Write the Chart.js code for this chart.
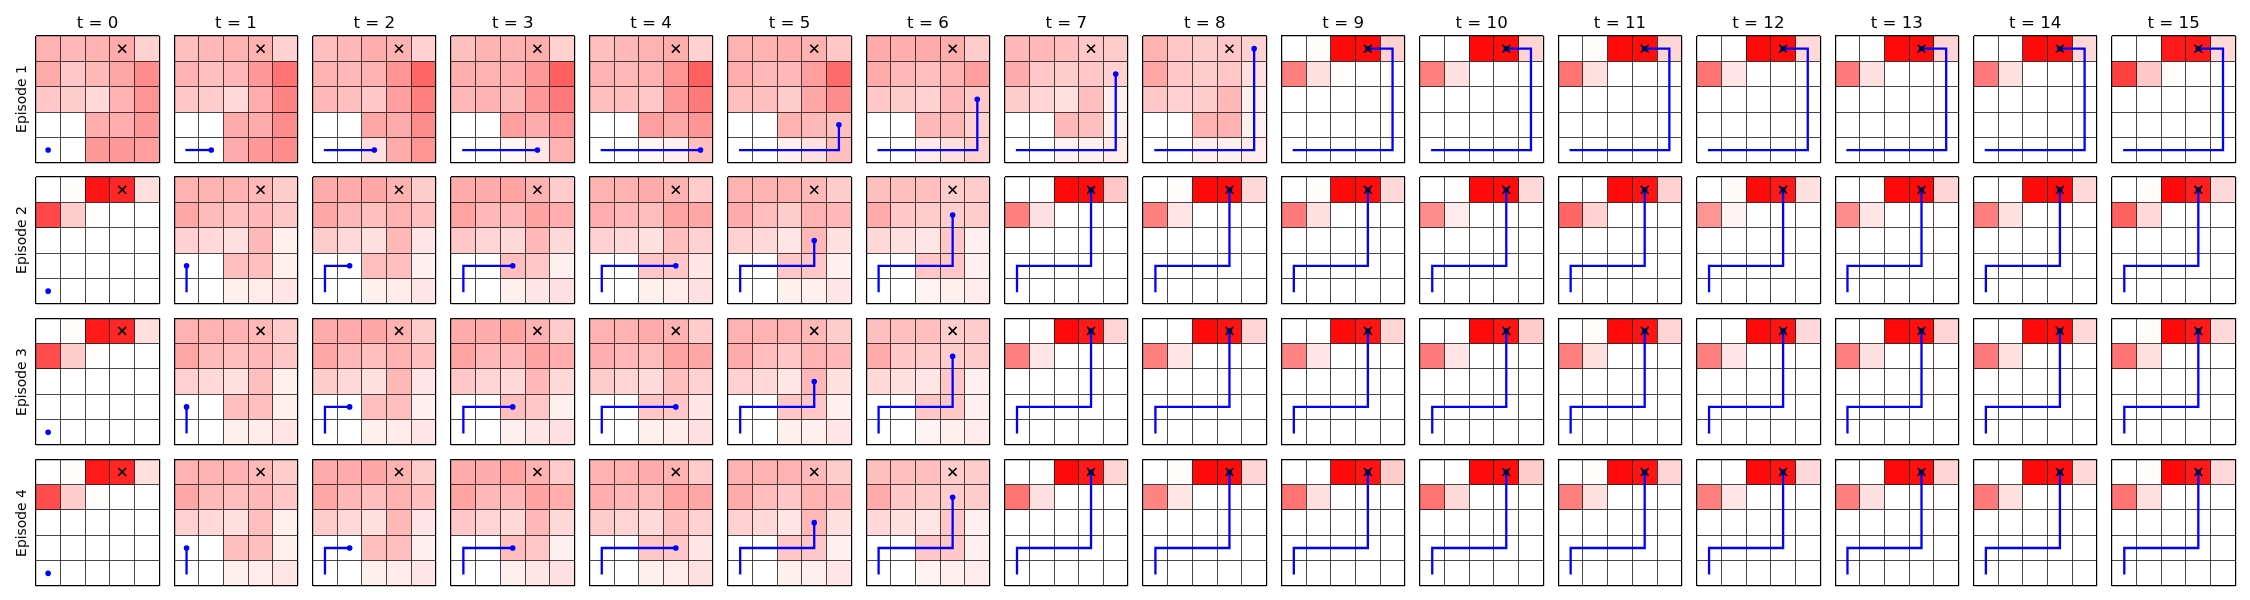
<!DOCTYPE html>
<html><head><meta charset="utf-8">
<script src="https://cdn.jsdelivr.net/npm/chart.js@4.4.0/dist/chart.umd.min.js"></script>
<style>
html,body{margin:0;padding:0;background:#fff;}
#fig{position:relative;width:2250px;height:600px;overflow:hidden;font-family:"DejaVu Sans",sans-serif;color:#000;}
#fig canvas{position:absolute;}
.ttl{position:absolute;font-size:16.67px;line-height:20px;text-align:center;white-space:nowrap;}
.ylab{position:absolute;font-size:13.89px;line-height:16px;width:120px;text-align:center;white-space:nowrap;transform:rotate(-90deg);}
</style></head><body><div id="fig"></div>
<script>
const timeLabels = ['t = 0','t = 1','t = 2','t = 3','t = 4','t = 5','t = 6','t = 7','t = 8','t = 9','t = 10','t = 11','t = 12','t = 13','t = 14','t = 15'];
const episodeLabels = ['Episode 1','Episode 2','Episode 3','Episode 4'];
const goalCell = [3, 0]; // [column, row from top]

const episode1Path = [[0,4],[1,4],[2,4],[3,4],[4,4],[4,3],[4,2],[4,1],[4,0],[3,0]];
const episode2Path = [[0,4],[0,3],[1,3],[2,3],[3,3],[3,2],[3,1],[3,0]];
const episode3Path = [[0,4],[0,3],[1,3],[2,3],[3,3],[3,2],[3,1],[3,0]];
const episode4Path = [[0,4],[0,3],[1,3],[2,3],[3,3],[3,2],[3,1],[3,0]];

// heat values per time step, 5 rows x 5 columns (top row first)
const episode1Heat = [
 [0.30,0.28,0.30,0.33,0.18, 0.33,0.22,0.28,0.35,0.45, 0.22,0.20,0.15,0.30,0.42, 0,0,0.32,0.32,0.40, 0,0,0.40,0.40,0.38],
 [0.25,0.28,0.30,0.30,0.18, 0.30,0.25,0.28,0.40,0.55, 0.22,0.20,0.15,0.32,0.48, 0,0,0.33,0.33,0.45, 0,0,0.33,0.40,0.45],
 [0.25,0.28,0.32,0.30,0.18, 0.30,0.28,0.30,0.42,0.60, 0.28,0.25,0.22,0.38,0.50, 0,0,0.35,0.33,0.45, 0,0,0.12,0.33,0.42],
 [0.25,0.30,0.30,0.32,0.18, 0.32,0.30,0.32,0.40,0.62, 0.28,0.30,0.28,0.40,0.52, 0,0,0.38,0.33,0.42, 0,0,0.03,0.10,0.30],
 [0.25,0.28,0.30,0.32,0.18, 0.30,0.28,0.30,0.42,0.62, 0.25,0.25,0.22,0.40,0.52, 0,0,0.38,0.35,0.42, 0,0,0.03,0.06,0.25],
 [0.30,0.30,0.32,0.30,0.22, 0.32,0.28,0.28,0.38,0.58, 0.25,0.25,0.20,0.35,0.45, 0,0,0.30,0.28,0.25, 0,0,0.06,0.12,0.25],
 [0.33,0.32,0.33,0.32,0.20, 0.33,0.28,0.25,0.30,0.38, 0.22,0.20,0.18,0.28,0.22, 0,0,0.28,0.28,0.18, 0,0,0.08,0.12,0.18],
 [0.28,0.28,0.25,0.22,0.20, 0.33,0.22,0.20,0.22,0.18, 0.20,0.17,0.12,0.25,0.06, 0,0,0.28,0.25,0.06, 0,0,0.05,0.06,0.08],
 [0.30,0.22,0.20,0.22,0.18, 0.35,0.22,0.20,0.22,0.12, 0.22,0.18,0.20,0.28,0.06, 0,0,0.30,0.30,0.06, 0,0,0.06,0.06,0.08],
 [0,0.01,0.96,0.95,0.18, 0.50,0.12,0.01,0,0, 0,0,0,0,0, 0,0,0,0,0, 0,0,0,0,0],
 [0,0,0.96,0.95,0.17, 0.50,0.12,0,0,0, 0,0,0,0,0, 0,0,0,0,0, 0,0,0,0,0],
 [0,0.01,0.96,0.95,0.17, 0.55,0.12,0,0,0, 0,0,0,0,0, 0,0,0,0,0, 0,0,0,0,0],
 [0,0,0.96,0.95,0.15, 0.55,0.10,0,0,0, 0,0,0,0,0, 0,0,0,0,0, 0,0,0,0,0],
 [0,0,0.96,0.95,0.17, 0.52,0.12,0,0,0, 0,0,0,0,0, 0,0,0,0,0, 0,0,0,0,0],
 [0,0,0.96,0.94,0.15, 0.52,0.12,0,0,0, 0,0,0,0,0, 0,0,0,0,0, 0,0,0,0,0],
 [0,0,0.90,0.90,0.15, 0.75,0.22,0.01,0,0, 0,0,0,0,0, 0,0,0,0,0, 0,0,0,0,0]
];
const episode2Heat = [
 [0,0.01,0.92,0.85,0.13, 0.72,0.20,0.01,0,0, 0,0,0,0,0, 0,0,0,0,0, 0,0,0,0,0],
 [0.30,0.30,0.30,0.28,0.20, 0.35,0.27,0.25,0.28,0.22, 0.18,0.15,0.12,0.28,0.06, 0,0,0.25,0.25,0.06, 0,0,0.06,0.08,0.10],
 [0.33,0.33,0.35,0.30,0.20, 0.35,0.28,0.25,0.30,0.25, 0.20,0.15,0.12,0.28,0.10, 0,0,0.25,0.25,0.06, 0,0,0.06,0.08,0.10],
 [0.33,0.33,0.36,0.30,0.20, 0.36,0.28,0.28,0.36,0.32, 0.22,0.17,0.15,0.28,0.15, 0,0,0.25,0.22,0.06, 0,0,0.06,0.10,0.12],
 [0.30,0.30,0.33,0.30,0.20, 0.32,0.28,0.26,0.36,0.35, 0.18,0.15,0.12,0.25,0.18, 0,0,0.22,0.22,0.10, 0,0,0.06,0.08,0.12],
 [0.30,0.30,0.30,0.28,0.20, 0.33,0.26,0.20,0.30,0.28, 0.18,0.15,0.10,0.28,0.12, 0,0,0.22,0.22,0.06, 0,0,0.06,0.06,0.10],
 [0.25,0.25,0.25,0.20,0.20, 0.33,0.22,0.20,0.20,0.20, 0.15,0.12,0.10,0.22,0.06, 0,0,0.22,0.22,0.06, 0,0,0.05,0.06,0.08],
 [0,0.01,0.96,0.95,0.22, 0.50,0.12,0,0,0, 0,0,0,0,0, 0,0,0,0,0, 0,0,0,0,0],
 [0,0.01,0.96,0.95,0.15, 0.50,0.10,0,0,0, 0,0,0,0,0, 0,0,0,0,0, 0,0,0,0,0],
 [0,0.01,0.96,0.95,0.15, 0.52,0.12,0,0,0, 0,0,0,0,0, 0,0,0,0,0, 0,0,0,0,0],
 [0,0.01,0.96,0.95,0.15, 0.45,0.08,0,0,0, 0,0,0,0,0, 0,0,0,0,0, 0,0,0,0,0],
 [0,0,0.96,0.93,0.18, 0.60,0.18,0,0,0, 0,0,0,0,0, 0,0,0,0,0, 0,0,0,0,0],
 [0,0.02,0.96,0.90,0.12, 0.42,0.05,0,0,0, 0,0,0,0,0, 0,0,0,0,0, 0,0,0,0,0],
 [0,0.01,0.96,0.96,0.17, 0.45,0.10,0,0,0, 0,0,0,0,0, 0,0,0,0,0, 0,0,0,0,0],
 [0,0,0.96,0.96,0.15, 0.50,0.12,0,0,0, 0,0,0,0,0, 0,0,0,0,0, 0,0,0,0,0],
 [0,0.01,0.96,0.88,0.15, 0.62,0.15,0,0,0, 0,0,0,0,0, 0,0,0,0,0, 0,0,0,0,0]
];
const episode3Heat = [
 [0,0.01,0.90,0.85,0.13, 0.70,0.20,0.01,0,0, 0,0,0,0,0, 0,0,0,0,0, 0,0,0,0,0],
 [0.30,0.30,0.30,0.28,0.20, 0.35,0.27,0.25,0.28,0.22, 0.18,0.15,0.12,0.25,0.06, 0,0,0.25,0.25,0.06, 0,0,0.06,0.08,0.10],
 [0.33,0.33,0.35,0.30,0.20, 0.35,0.28,0.25,0.30,0.25, 0.20,0.15,0.12,0.28,0.10, 0,0,0.25,0.25,0.06, 0,0,0.06,0.08,0.10],
 [0.33,0.33,0.36,0.30,0.20, 0.36,0.28,0.28,0.36,0.32, 0.22,0.17,0.15,0.28,0.15, 0,0,0.25,0.22,0.06, 0,0,0.06,0.10,0.12],
 [0.30,0.30,0.33,0.30,0.20, 0.32,0.28,0.26,0.36,0.35, 0.20,0.17,0.14,0.25,0.18, 0,0,0.22,0.22,0.10, 0,0,0.06,0.08,0.12],
 [0.30,0.30,0.30,0.28,0.20, 0.33,0.26,0.22,0.30,0.28, 0.18,0.15,0.10,0.28,0.12, 0,0,0.22,0.22,0.06, 0,0,0.06,0.06,0.10],
 [0.25,0.25,0.25,0.20,0.20, 0.33,0.22,0.20,0.20,0.20, 0.15,0.12,0.10,0.22,0.06, 0,0,0.22,0.22,0.06, 0,0,0.05,0.06,0.08],
 [0,0,0.96,0.90,0.17, 0.50,0.10,0,0,0, 0,0,0,0,0, 0,0,0,0,0, 0,0,0,0,0],
 [0,0,0.96,0.92,0.17, 0.50,0.10,0,0,0, 0,0,0,0,0, 0,0,0,0,0, 0,0,0,0,0],
 [0,0,0.96,0.92,0.17, 0.48,0.10,0,0,0, 0,0,0,0,0, 0,0,0,0,0, 0,0,0,0,0],
 [0,0,0.96,0.92,0.20, 0.52,0.10,0,0,0, 0,0,0,0,0, 0,0,0,0,0, 0,0,0,0,0],
 [0,0.01,0.96,0.93,0.17, 0.50,0.12,0,0,0, 0,0,0,0,0, 0,0,0,0,0, 0,0,0,0,0],
 [0,0,0.96,0.92,0.15, 0.50,0.10,0,0,0, 0,0,0,0,0, 0,0,0,0,0, 0,0,0,0,0],
 [0,0,0.96,0.94,0.17, 0.50,0.12,0,0,0, 0,0,0,0,0, 0,0,0,0,0, 0,0,0,0,0],
 [0,0,0.96,0.94,0.15, 0.52,0.12,0,0,0, 0,0,0,0,0, 0,0,0,0,0, 0,0,0,0,0],
 [0,0.01,0.96,0.90,0.15, 0.55,0.12,0,0,0, 0,0,0,0,0, 0,0,0,0,0, 0,0,0,0,0]
];
const episode4Heat = [
 [0,0.01,0.90,0.85,0.13, 0.70,0.20,0.01,0,0, 0,0,0,0,0, 0,0,0,0,0, 0,0,0,0,0],
 [0.30,0.30,0.30,0.28,0.20, 0.35,0.27,0.25,0.28,0.22, 0.18,0.15,0.12,0.25,0.06, 0,0,0.25,0.25,0.06, 0,0,0.06,0.08,0.10],
 [0.33,0.33,0.35,0.30,0.20, 0.35,0.28,0.25,0.30,0.25, 0.20,0.15,0.12,0.28,0.10, 0,0,0.25,0.25,0.06, 0,0,0.06,0.08,0.10],
 [0.33,0.33,0.36,0.30,0.20, 0.36,0.28,0.28,0.36,0.32, 0.22,0.17,0.15,0.28,0.15, 0,0,0.25,0.22,0.06, 0,0,0.06,0.10,0.12],
 [0.30,0.30,0.33,0.30,0.20, 0.32,0.28,0.26,0.36,0.35, 0.20,0.17,0.14,0.25,0.18, 0,0,0.22,0.22,0.10, 0,0,0.06,0.08,0.12],
 [0.30,0.30,0.30,0.28,0.20, 0.33,0.26,0.22,0.30,0.28, 0.18,0.15,0.10,0.28,0.12, 0,0,0.22,0.22,0.06, 0,0,0.06,0.06,0.10],
 [0.25,0.25,0.25,0.20,0.20, 0.33,0.22,0.20,0.20,0.20, 0.15,0.12,0.10,0.22,0.06, 0,0,0.22,0.22,0.06, 0,0,0.05,0.06,0.08],
 [0,0.01,0.96,0.90,0.17, 0.55,0.12,0,0,0, 0,0,0,0,0, 0,0,0,0,0, 0,0,0,0,0],
 [0,0.01,0.96,0.95,0.17, 0.48,0.10,0,0,0, 0,0,0,0,0, 0,0,0,0,0, 0,0,0,0,0],
 [0,0,0.96,0.92,0.20, 0.55,0.12,0,0,0, 0,0,0,0,0, 0,0,0,0,0, 0,0,0,0,0],
 [0,0,0.96,0.95,0.20, 0.55,0.15,0,0,0, 0,0,0,0,0, 0,0,0,0,0, 0,0,0,0,0],
 [0,0.01,0.96,0.93,0.17, 0.50,0.12,0,0,0, 0,0,0,0,0, 0,0,0,0,0, 0,0,0,0,0],
 [0,0,0.96,0.92,0.15, 0.50,0.10,0,0,0, 0,0,0,0,0, 0,0,0,0,0, 0,0,0,0,0],
 [0,0,0.96,0.94,0.17, 0.50,0.12,0,0,0, 0,0,0,0,0, 0,0,0,0,0, 0,0,0,0,0],
 [0,0,0.96,0.94,0.15, 0.52,0.12,0,0,0, 0,0,0,0,0, 0,0,0,0,0, 0,0,0,0,0],
 [0,0.01,0.96,0.90,0.15, 0.55,0.12,0,0,0, 0,0,0,0,0, 0,0,0,0,0, 0,0,0,0,0]
];

const episodePaths = [episode1Path, episode2Path, episode3Path, episode4Path];
const episodeHeats = [episode1Heat, episode2Heat, episode3Heat, episode4Heat];

// ---- layout (pixels) ----
const PANEL_LEFT0 = 35.8, PANEL_PITCH_X = 138.41, PANEL_W = 123.4;
const PANEL_TOP0 = 36.0, PANEL_PITCH_Y = 141.1, PANEL_H = 126.7;
const PAD = 8;

const cellPlugin = {
  id: 'cells',
  beforeDraw(chart, args, opts) {
    const {ctx} = chart; const xs = chart.scales.x, ys = chart.scales.y;
    const vals = opts.values || [];
    ctx.save();
    for (let r = 0; r < 5; r++) for (let c = 0; c < 5; c++) {
      const a = vals[r * 5 + c];
      if (!a) continue;
      const x0 = xs.getPixelForValue(c), x1 = xs.getPixelForValue(c + 1);
      const y0 = ys.getPixelForValue(r), y1 = ys.getPixelForValue(r + 1);
      ctx.fillStyle = 'rgba(255,0,0,' + a + ')';
      ctx.fillRect(x0, Math.min(y0, y1), x1 - x0, Math.abs(y1 - y0));
    }
    ctx.restore();
  }
};
Chart.register(cellPlugin);

const fig = document.getElementById('fig');
const isEdge = v => v === 0 || v === 5;
function axisOpts(reverse) {
  return {
    type: 'linear', min: 0, max: 5, reverse: reverse,
    ticks: {display: false, stepSize: 1},
    border: {display: false},
    grid: {
      drawTicks: false,
      color: c => (c.tick && isEdge(c.tick.value)) ? '#000' : 'rgba(0,0,0,0.72)',
      lineWidth: c => (c.tick && isEdge(c.tick.value)) ? 1.2 : 1
    }
  };
}

for (let e = 0; e < 4; e++) {
  for (let t = 0; t < 16; t++) {
    const left = PANEL_LEFT0 + t * PANEL_PITCH_X;
    const top = PANEL_TOP0 + e * PANEL_PITCH_Y;
    const x0 = Math.floor(left) - PAD, y0 = Math.floor(top) - PAD;
    const W = Math.ceil(left + PANEL_W) + PAD - x0;
    const H = Math.ceil(top + PANEL_H) + PAD - y0;
    const cv = document.createElement('canvas');
    cv.width = W; cv.height = H;
    cv.style.left = x0 + 'px'; cv.style.top = y0 + 'px';
    cv.style.width = W + 'px'; cv.style.height = H + 'px';
    fig.appendChild(cv);

    const full = episodePaths[e];
    const pts = full.slice(0, Math.min(t + 1, full.length)).map(p => ({x: p[0] + 0.5, y: p[1] + 0.5}));
    const n = pts.length;

    new Chart(cv, {
      type: 'scatter',
      data: {
        datasets: [
          {
            data: [{x: goalCell[0] + 0.5, y: goalCell[1] + 0.5}],
            pointStyle: 'crossRot', pointRadius: 5.6, pointBorderColor: '#000',
            pointBackgroundColor: '#000', pointBorderWidth: 1.6, showLine: false, clip: false
          },
          {
            data: pts, showLine: true, borderColor: '#0000ff', borderWidth: 2.3, tension: 0,
            borderCapStyle: 'square',
            pointRadius: c => c.dataIndex === n - 1 ? 2.8 : 0,
            pointBackgroundColor: '#0000ff', pointBorderColor: '#0000ff', pointBorderWidth: 0,
            clip: false
          }
        ]
      },
      options: {
        responsive: false, animation: false, devicePixelRatio: 1, events: [],
        layout: {padding: {left: left - x0, top: top - y0, right: x0 + W - (left + PANEL_W), bottom: y0 + H - (top + PANEL_H)}},
        scales: {x: axisOpts(false), y: axisOpts(true)},
        plugins: {legend: {display: false}, tooltip: {enabled: false}, cells: {values: episodeHeats[e][t]}}
      }
    });
  }
}

// titles
for (let t = 0; t < 16; t++) {
  const d = document.createElement('div');
  d.className = 'ttl';
  d.textContent = timeLabels[t];
  const cx = PANEL_LEFT0 + t * PANEL_PITCH_X + PANEL_W / 2;
  d.style.left = (cx - 60) + 'px'; d.style.width = '120px'; d.style.top = '13px';
  fig.appendChild(d);
}
for (let e = 0; e < 4; e++) {
  const d = document.createElement('div');
  d.className = 'ylab';
  d.textContent = episodeLabels[e];
  const cy = PANEL_TOP0 + e * PANEL_PITCH_Y + PANEL_H / 2;
  d.style.left = (20.9 - 60) + 'px'; d.style.top = (cy - 8) + 'px';
  fig.appendChild(d);
}
</script></body></html>
